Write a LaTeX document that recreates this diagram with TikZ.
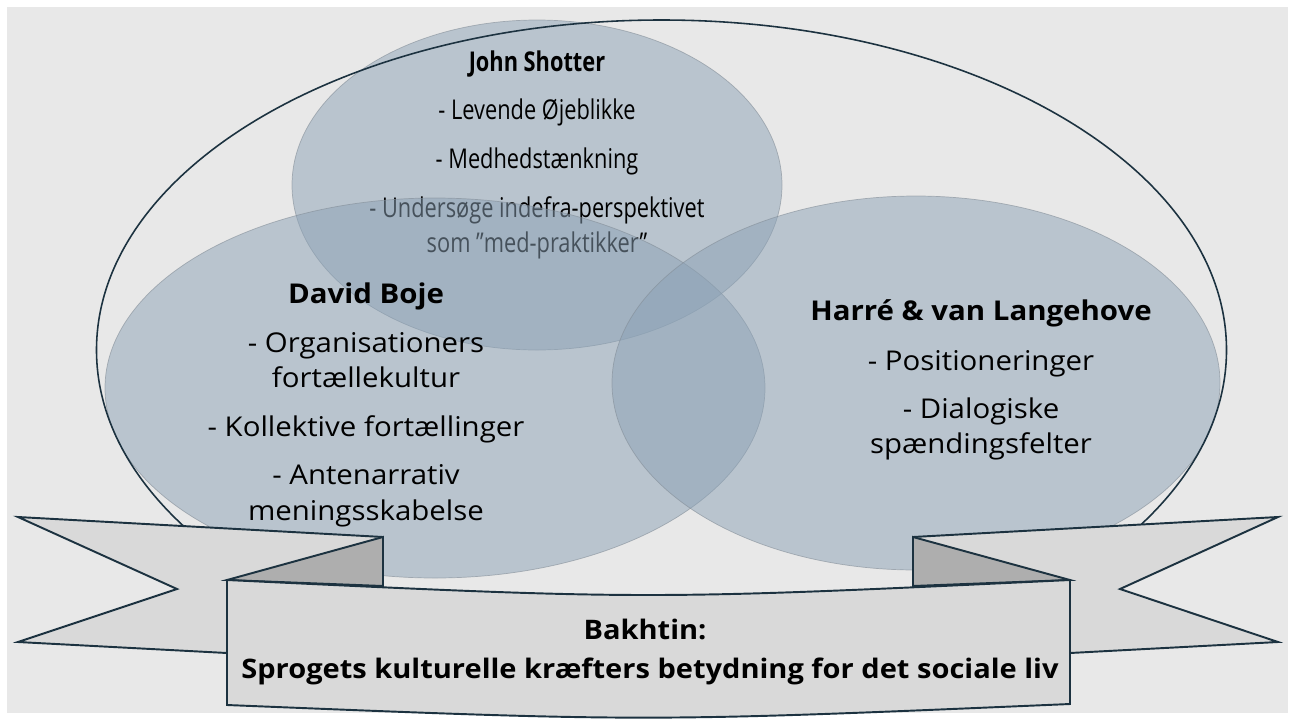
\documentclass[tikz,border=0pt]{standalone}
\usepackage{fontspec}
\setmainfont[FakeStretch=1.08]{Open Sans}
\newfontfamily\narrowfont[FakeStretch=0.80]{Open Sans}
\usetikzlibrary{positioning}
\definecolor{bggray}{RGB}{232,232,232}
\definecolor{bubble}{RGB}{140,162,182}
\definecolor{bubbleline}{RGB}{130,140,150}
\definecolor{inkline}{RGB}{28,50,64}
\definecolor{ribbonfront}{RGB}{217,217,217}
\definecolor{ribbonfold}{RGB}{174,174,174}
\begin{document}
\begin{tikzpicture}
[x=0.02cm,y=-0.02cm,
  bubbledecorate/.style={fill=bubble,fill opacity=0.5,draw=bubbleline,draw opacity=0.6,line width=0.4pt},%
  ringdecorate/.style={draw=inkline,line width=0.9pt},%
  ribbondecorate/.style={fill=ribbonfront,draw=inkline,line width=1.1pt,line join=miter},%
  folddecorate/.style={fill=ribbonfold,draw=inkline,line width=1.1pt},%
  textdecorate/.style={anchor=base,inner sep=0pt,font=\fontsize{15.5}{18}\selectfont},%
  narrowdecorate/.style={anchor=base,inner sep=0pt,font=\narrowfont\fontsize{15.5}{18}\selectfont}]
\useasboundingbox (0,0) rectangle (1295,724);
\fill[white] (0,0) rectangle (1295,724);
\fill[bggray] (7,7) rectangle (1288,713);
%% top bubble and its text
\fill[bubbledecorate] (537,185) ellipse [x radius=245,y radius=165];
\foreach \nodename/\y/\txt in {shotter/71/\textbf{John Shotter},
  levende/119/- Levende Øjeblikke, medhed/168/- Medhedstænkning,
  undersoege/217/- Undersøge indefra-perspektivet,
  praktikker/252/som ”med-praktikker”} {
  \node (\nodename) at (537,\y) [narrowdecorate] {\txt};
}
%% lower bubbles
\foreach \cx/\cy/\rx/\ry in {435/388/330/190, 916/383/304/187} {
  \fill[bubbledecorate] (\cx,\cy) ellipse [x radius=\rx,y radius=\ry];
}
%% outer ring
\draw[ringdecorate] (661.5,350) ellipse [x radius=565,y radius=330];
%% texts of the lower bubbles
\foreach \nodename/\x/\y/\txt in {boje/366/303/\textbf{David Boje},
  organisation/366/352/- Organisationers, fortaelle/366/387/fortællekultur,
  kollektive/366/436/- Kollektive fortællinger,
  antenarrativ/366/484/- Antenarrativ, menings/366/520/meningsskabelse,
  harre/981/320/\textbf{Harré \& van Langehove},
  position/981/370/- Positioneringer, dialog/981/418/- Dialogiske,
  spaending/981/453/spændingsfelter} {
  \node (\nodename) at (\x,\y) [textdecorate] {\txt};
}
%% ribbon
\draw[ribbondecorate] (18,517) -- (383,537) -- (383,586) -- (227,580)
  -- (227,653) -- (18,642) -- (177,589) -- cycle;
\draw[ribbondecorate] (1278,517) -- (913,537) -- (913,586) -- (1070,580)
  -- (1070,653) -- (1278,642) -- (1120,589) -- cycle;
\draw[folddecorate] (383,537) -- (383,586) -- (227,580) -- cycle;
\draw[folddecorate] (913,537) -- (913,586) -- (1070,580) -- cycle;
\draw[ribbondecorate] (227,580) .. controls (648,600) .. (1070,580)
  -- (1070,704) .. controls (648,722) .. (227,705) -- cycle;
\node (bakhtin) at (645,639) [textdecorate,font=\bfseries\fontsize{15.3}{18}\selectfont] {Bakhtin:};
\node (sproget) at (650,678) [textdecorate,font=\bfseries\fontsize{15.3}{18}\selectfont]
  {Sprogets kulturelle kræfters betydning for det sociale liv};
\end{tikzpicture}
\end{document}
